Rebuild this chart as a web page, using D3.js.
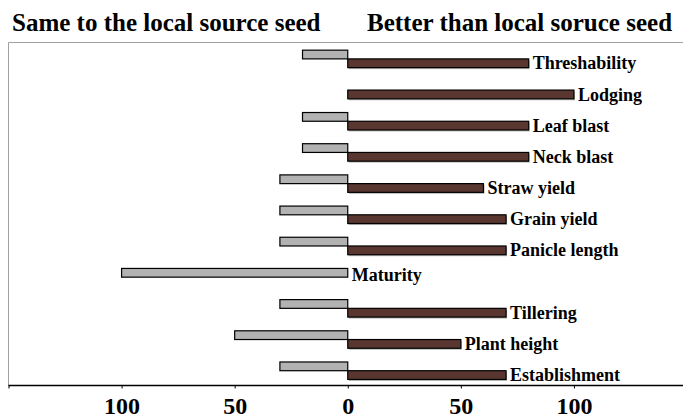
<!DOCTYPE html>
<html>
<head>
<meta charset="utf-8">
<script src="https://cdn.jsdelivr.net/npm/d3@7"></script>
<style>
  html, body { margin: 0; padding: 0; background: #fff; }
  svg { display: block; }
  text { font-family: "Liberation Serif", "Times New Roman", serif; font-weight: bold; fill: #000; }
</style>
</head>
<body>
<svg id="chart" width="683" height="418"></svg>
<script>
// Traits, listed top to bottom
const traits = ["Threshability", "Lodging", "Leaf blast", "Neck blast", "Straw yield",
  "Grain yield", "Panicle length", "Maturity", "Tillering", "Plant height", "Establishment"];
// Percent of farmers rating the seed the same as the local source (drawn to the left)
const sameValues = [20, 0, 20, 20, 30, 30, 30, 100, 30, 50, 30];
// Percent of farmers rating the seed better than the local source (drawn to the right)
const betterValues = [80, 100, 80, 80, 60, 70, 70, 0, 70, 50, 70];
const tickValues = [-100, -50, 0, 50, 100];
const headers = ["Same to the local source seed", "Better than local soruce seed"];

const W = 683, H = 418;
const plot = { left: 8.5, right: 687, top: 42.5, bottom: 385.5 };

const svg = d3.select("#chart");

const x = d3.scaleLinear().domain([-150, 150]).range([plot.left, plot.right]);
const y = d3.scaleBand().domain(traits).range([plot.top + 0.8, plot.bottom + 0.8]).paddingInner(0.44).paddingOuter(0.22);
const sub = d3.scaleBand().domain(["same", "better"]).range([0, y.bandwidth()]);

const rows = traits.map((t, i) => ({ trait: t, same: sameValues[i], better: betterValues[i] }));

// Plot frame (top and left edges)
svg.append("line").attr("x1", plot.left).attr("x2", W).attr("y1", plot.top).attr("y2", plot.top)
  .attr("stroke", "#a0a0a0").attr("stroke-width", 1);
svg.append("line").attr("x1", plot.left).attr("x2", plot.left).attr("y1", plot.top).attr("y2", plot.bottom)
  .attr("stroke", "#a0a0a0").attr("stroke-width", 1);

const g = svg.append("g");

// "Same" bars extend left of zero
g.selectAll("rect.same").data(rows.filter(d => d.same > 0)).join("rect")
  .attr("class", "same")
  .attr("x", d => x(-d.same))
  .attr("width", d => x(0) - x(-d.same))
  .attr("y", d => y(d.trait) + sub("same"))
  .attr("height", sub.bandwidth())
  .attr("fill", "#b2b2b2").attr("stroke", "#000").attr("stroke-width", 1.2);

// Soft shadow under the "better" bars
g.selectAll("rect.shadow").data(rows.filter(d => d.better > 0)).join("rect")
  .attr("class", "shadow")
  .attr("x", x(0) + 1)
  .attr("width", d => x(d.better) - x(0))
  .attr("y", d => y(d.trait) + sub("better") + 1.5)
  .attr("height", sub.bandwidth())
  .attr("fill", "#b8b8b8");

// "Better" bars extend right of zero
g.selectAll("rect.better").data(rows.filter(d => d.better > 0)).join("rect")
  .attr("class", "better")
  .attr("x", x(0))
  .attr("width", d => x(d.better) - x(0))
  .attr("y", d => y(d.trait) + sub("better"))
  .attr("height", sub.bandwidth())
  .attr("fill", "#5a3630").attr("stroke", "#000").attr("stroke-width", 1.2);

// Trait labels at the end of each bar pair
g.selectAll("text.trait").data(rows).join("text")
  .attr("class", "trait")
  .attr("x", d => x(d.better) + 4)
  .attr("y", d => d.better > 0
      ? y(d.trait) + sub("better") + sub.bandwidth() / 2
      : y(d.trait) + sub("same") + sub.bandwidth() * 0.72)
  .attr("dy", "0.34em")
  .attr("font-size", 18)
  .text(d => d.trait);

// Bottom axis: distance from zero in both directions
const axis = d3.axisBottom(x)
  .tickValues([-150].concat(tickValues))
  .tickSize(3)
  .tickFormat(v => v === -150 ? "" : String(Math.abs(v)));
const ax = svg.append("g").attr("transform", `translate(0,${plot.bottom})`).call(axis);
ax.select(".domain").attr("d", `M${plot.left},0H${W}`).attr("stroke", "#000").attr("stroke-width", 1.3);
ax.selectAll(".tick line").attr("stroke", "#000");
ax.selectAll(".tick text")
  .attr("font-family", "Liberation Serif, Times New Roman, serif")
  .attr("font-weight", "bold").attr("font-size", 24).attr("fill", "#000")
  .attr("y", 28.5).attr("dy", null);

// Side headers
svg.append("text").attr("x", 12).attr("y", 31).attr("font-size", 25).text(headers[0]);
svg.append("text").attr("x", 367).attr("y", 31).attr("font-size", 25).text(headers[1]);
</script>
</body>
</html>
